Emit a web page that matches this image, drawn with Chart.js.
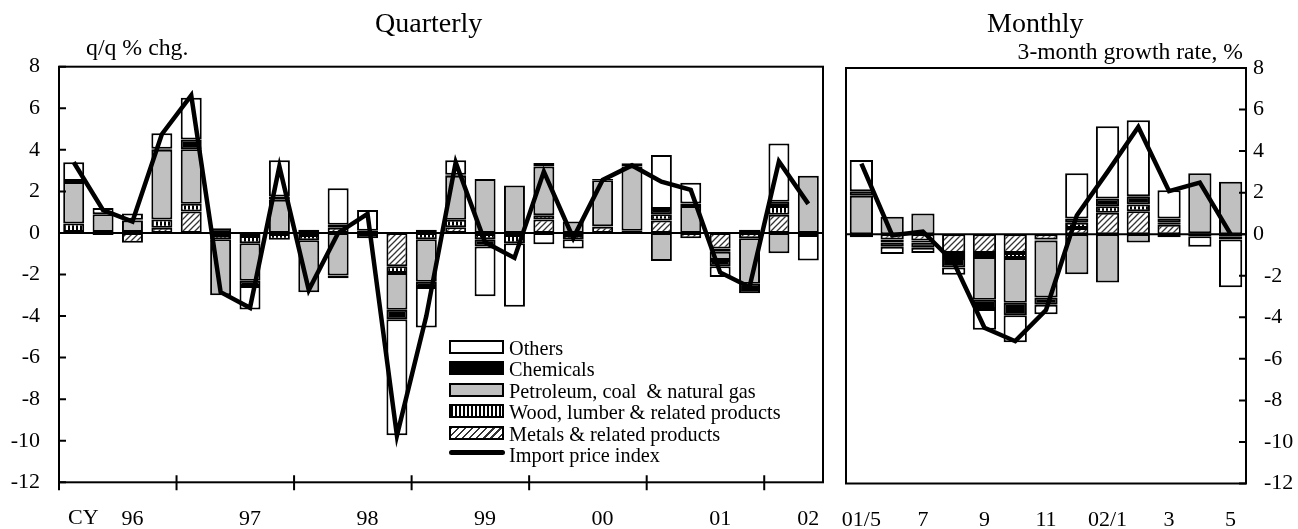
<!DOCTYPE html>
<html>
<head>
<meta charset="utf-8">
<script src="https://cdn.jsdelivr.net/npm/chart.js@4.4.1/dist/chart.umd.min.js"></script>
<style>
  html, body { margin: 0; padding: 0; background: #fff; }
  body { width: 1298px; height: 529px; position: relative; overflow: hidden;
         font-family: "Liberation Serif", "Times New Roman", serif; color: #000; }
  .box { position: absolute; top: 0; height: 529px; }
  .txt { position: absolute; white-space: nowrap; line-height: 1; }
  .leg { position: absolute; left: 449px; width: 51px; height: 10px; border: 2px solid #000; }
  .legt { position: absolute; left: 509px; font-size: 20.3px; line-height: 1; white-space: nowrap; }
</style>
</head>
<body>
<div class="box" id="qbox" style="left:0;width:840px;"><canvas id="qc"></canvas></div>
<div class="box" id="mbox" style="left:830px;width:468px;"><canvas id="mc"></canvas></div>

<div class="txt" style="left:375px;top:9px;font-size:28px;">Quarterly</div>
<div class="txt" style="left:987px;top:9px;font-size:28px;">Monthly</div>
<div class="txt" style="left:86px;top:36px;font-size:23.8px;">q/q % chg.</div>
<div class="txt" style="right:55px;top:40px;font-size:23.6px;">3-month growth rate, %</div>
<div class="txt" style="left:68px;top:506px;font-size:22px;">CY</div>

<div class="leg" style="top:340px;background:#fff;"></div>
<div class="legt" style="top:338px;">Others</div>
<div class="leg" style="top:361px;background:#000;"></div>
<div class="legt" style="top:359px;">Chemicals</div>
<div class="leg" style="top:383px;background:#c0c0c0;"></div>
<div class="legt" style="top:381px;">Petroleum, coal &nbsp;&amp; natural gas</div>
<div class="leg" style="top:404px;background:repeating-linear-gradient(90deg,#000 0 2px,#fff 2px 4px);"></div>
<div class="legt" style="top:402px;">Wood, lumber &amp; related products</div>
<div class="leg" style="top:426px;background:repeating-linear-gradient(-45deg,#fff 0 2px,#333 2px 3.5px,#fff 3.5px 5px);"></div>
<div class="legt" style="top:424px;">Metals &amp; related products</div>
<div style="position:absolute;left:449px;top:450px;width:56px;height:5px;background:#000;border-radius:3px;"></div>
<div class="legt" style="top:445px;">Import price index</div>

<script>
// ---------------- DATA ----------------
const quarterCategories = ['96Q1','96Q2','96Q3','96Q4','97Q1','97Q2','97Q3','97Q4',
  '98Q1','98Q2','98Q3','98Q4','99Q1','99Q2','99Q3','99Q4','00Q1','00Q2','00Q3','00Q4',
  '01Q1','01Q2','01Q3','01Q4','02Q1','02Q2'];
const quarterTickLabels = ['','','96','','','','97','','','','98','','','','99','','','','00','','','','01','','','02'];

const qMetals     = [0.05,-0.1,-0.47,0.25,1.03,-0.1,-0.15,-0.05,-0.1,0.25,null,-1.6,0.15,0.27,-0.05,-0.1,0.65,-0.1,0.3,0.1,0.6,-0.25,-0.75,-0.25,0.87,null];
const qWood       = [0.4,0.05,0.05,0.4,0.37,-0.2,-0.35,-0.28,-0.25,0.15,null,-0.33,-0.3,0.36,-0.25,-0.4,0.2,-0.2,0.02,null,0.3,null,-0.15,null,0.43,null];
const qPetroleum  = [2.0,0.85,0.55,3.35,2.63,-2.7,-1.8,1.6,-2.5,-2.05,0.1,-1.77,-2.05,2.12,2.6,2.28,2.35,0.55,2.22,3.1,-1.35,1.3,-0.4,-2.2,-0.98,2.75];
const qChemicals  = [0.05,null,0.03,0.05,0.47,0.22,-0.25,0.15,null,-0.13,-0.25,-0.45,-0.25,0.05,-0.35,null,0.17,null,0.05,0.15,0.25,0.12,-0.3,-0.45,0.2,-0.1];
const qOthers     = [0.9,0.3,0.3,0.75,2.0,null,-1.13,1.75,0.15,1.75,1.0,-5.58,-1.95,0.7,-2.4,-3.05,-0.55,-0.45,null,null,2.6,1.0,-0.52,0.15,2.8,-1.23];
const qImportIdx  = [3.4,1.1,0.55,4.75,6.62,-2.85,-3.6,3.2,-2.75,0.0,0.92,-9.75,-4.0,3.4,-0.45,-1.2,2.95,-0.25,2.55,3.25,2.47,2.07,-1.9,-2.6,3.44,1.4];

const monthCategories = ['01/5','01/6','01/7','01/8','01/9','01/10','01/11','01/12','02/1','02/2','02/3','02/4','02/5'];
const monthTickLabels = ['01/5','','7','','9','','11','','02/1','','3','','5'];

const mMetals     = [-0.15,-0.25,-0.3,-0.9,-0.9,-0.9,-0.25,0.3,1.03,1.1,0.45,null,-0.1];
const mWood       = [null,-0.15,-0.1,-0.15,-0.2,-0.25,-0.05,0.25,0.32,0.33,0.1,0.05,null];
const mPetroleum  = [1.85,0.84,1.0,-0.1,-2.05,-2.15,-2.75,-1.93,-2.33,-0.4,-0.15,2.88,2.52];
const mChemicals  = [0.22,-0.2,-0.25,-0.45,-0.45,-0.6,-0.35,0.2,0.37,0.4,0.2,-0.1,-0.15];
const mOthers     = [1.5,-0.35,-0.25,-0.35,-1.0,-1.3,-0.45,2.18,3.48,3.65,1.37,-0.5,-2.3];
const mImportIdx  = [3.4,-0.05,0.13,-1.35,-4.5,-5.15,-3.65,0.9,3.0,5.16,2.07,2.48,0.0];

const yTickValues = [8,6,4,2,0,-2,-4,-6,-8,-10,-12];

// ---------------- STYLES ----------------
const FONT = '"Liberation Serif", "Times New Roman", serif';
Chart.defaults.font.family = FONT;
Chart.defaults.color = '#000';

function makePattern(kind) {
  const c = document.createElement('canvas');
  const ctx = c.getContext('2d');
  if (kind === 'wood') {
    c.width = 4; c.height = 4;
    ctx.fillStyle = '#fff'; ctx.fillRect(0,0,4,4);
    ctx.fillStyle = '#000'; ctx.fillRect(0,0,2,4);
  } else {
    c.width = 6; c.height = 6;
    ctx.fillStyle = '#fff'; ctx.fillRect(0,0,6,6);
    ctx.strokeStyle = '#333'; ctx.lineWidth = 1.3;
    ctx.beginPath();
    ctx.moveTo(-1,7); ctx.lineTo(7,-1);
    ctx.moveTo(-1,1); ctx.lineTo(1,-1);
    ctx.moveTo(5,7); ctx.lineTo(7,5);
    ctx.stroke();
  }
  return ctx.createPattern(c, 'repeat');
}
const woodPattern = makePattern('wood');
const metalPattern = makePattern('metal');

function barSets(metals, wood, petro, chem, others, pct) {
  const common = { borderColor: '#000', borderWidth: 2, borderSkipped: false,
                   categoryPercentage: 1.0, barPercentage: pct, stack: 'bars', order: 1 };
  return [
    Object.assign({ label: 'Metals & related products', data: metals, backgroundColor: metalPattern }, common),
    Object.assign({ label: 'Wood, lumber & related products', data: wood, backgroundColor: woodPattern }, common),
    Object.assign({ label: 'Petroleum, coal & natural gas', data: petro, backgroundColor: '#c0c0c0' }, common),
    Object.assign({ label: 'Chemicals', data: chem, backgroundColor: '#000' }, common),
    Object.assign({ label: 'Others', data: others, backgroundColor: '#fff' }, common)
  ];
}
function lineSet(data) {
  return { type: 'line', label: 'Import price index', data: data, borderColor: '#000',
           borderWidth: 4.5, pointRadius: 0, tension: 0, fill: false, stack: 'line', order: 0 };
}

const framePlugin = {
  id: 'frame',
  beforeDatasetsDraw(chart) {
    const ctx = chart.ctx, a = chart.chartArea, y0 = chart.scales.y.getPixelForValue(0);
    ctx.save(); ctx.strokeStyle = '#000'; ctx.lineWidth = 2;
    ctx.beginPath(); ctx.moveTo(a.left, y0); ctx.lineTo(a.right, y0); ctx.stroke();
    ctx.restore();
  },
  afterDatasetsDraw(chart, args, opts) {
    const ctx = chart.ctx, a = chart.chartArea, ys = chart.scales.y, xs = chart.scales.x;
    ctx.save(); ctx.strokeStyle = '#000'; ctx.lineWidth = 2;
    ctx.strokeRect(a.left, a.top, a.right - a.left, a.bottom - a.top);
    ctx.beginPath();
    yTickValues.forEach(v => {
      const py = ys.getPixelForValue(v);
      if (opts.side === 'left') { ctx.moveTo(a.left, py); ctx.lineTo(a.left + 7, py); }
      else { ctx.moveTo(a.right, py); ctx.lineTo(a.right - 7, py); }
    });
    if (opts.yearTicks) {
      ctx.moveTo(a.left, a.bottom - 7); ctx.lineTo(a.left, a.bottom + 8);
      for (let i = 3; i < xs.ticks.length - 1; i += 4) {
        const px = (xs.getPixelForTick(i) + xs.getPixelForTick(i + 1)) / 2;
        ctx.moveTo(px, a.bottom - 7); ctx.lineTo(px, a.bottom + 8);
      }
    }
    ctx.stroke();
    ctx.restore();
  }
};

function makeChart(id, cats, tickLabels, datasets, cfg) {
  return new Chart(document.getElementById(id), {
    type: 'bar',
    data: { labels: cats, datasets: datasets },
    plugins: [framePlugin],
    options: {
      responsive: true, maintainAspectRatio: false, animation: false,
      devicePixelRatio: 1,
      layout: { padding: cfg.padding },
      plugins: { legend: { display: false }, tooltip: { enabled: false },
                 frame: { side: cfg.side, yearTicks: cfg.yearTicks } },
      scales: {
        x: {
          stacked: true, offset: true,
          grid: { display: false, drawTicks: false }, border: { display: false },
          ticks: { autoSkip: false, maxRotation: 0, padding: cfg.xPad,
                   font: { size: 22, family: FONT }, color: '#000',
                   callback: (v, i) => tickLabels[i] },
          afterFit: s => { s.height = cfg.xHeight; s.paddingLeft = 0; s.paddingRight = 0; }
        },
        y: {
          stacked: true, position: cfg.side, min: -12, max: 8,
          afterBuildTicks: s => { s.ticks = yTickValues.map(v => ({ value: v })); },
          grid: { display: false, drawTicks: false }, border: { display: false },
          ticks: { padding: cfg.yPad, font: { size: 22, family: FONT }, color: '#000',
                   callback: cfg.yLabel },
          afterFit: s => { s.width = cfg.yWidth; s.paddingTop = 0; s.paddingBottom = 0; }
        }
      }
    }
  });
}

makeChart('qc', quarterCategories, quarterTickLabels,
  barSets(qMetals, qWood, qPetroleum, qChemicals, qOthers, 0.714).concat([lineSet(qImportIdx)]),
  { side: 'left', yearTicks: true, padding: { top: 66.7, right: 17, left: 0, bottom: 0 },
    xHeight: 46.7, xPad: 24, yWidth: 59, yPad: 19, yLabel: v => String(v) });

makeChart('mc', monthCategories, monthTickLabels,
  barSets(mMetals, mWood, mPetroleum, mChemicals, mOthers, 0.756).concat([lineSet(mImportIdx)]),
  { side: 'right', yearTicks: false, padding: { top: 68, right: 0, left: 16, bottom: 0 },
    xHeight: 45.5, xPad: 24, yWidth: 52, yPad: 7,
    yLabel: v => (v < 0 ? '\u2002' + String(v) : String(v)) });
</script>
</body>
</html>
